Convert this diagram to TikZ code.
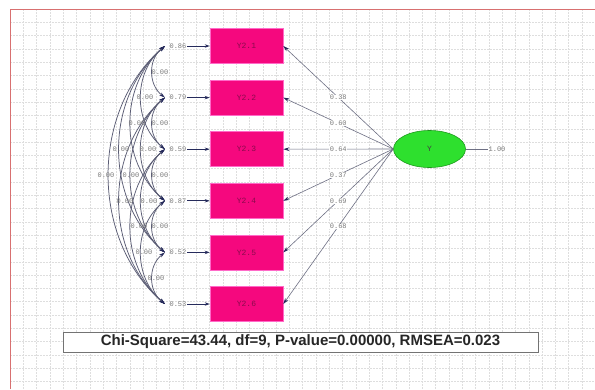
\documentclass[tikz,border=0pt]{standalone}
\usepackage{fontspec}
\setmainfont{Liberation Sans}
\newfontfamily\monof{Liberation Mono}
\usetikzlibrary{arrows.meta,shapes.geometric}
\definecolor{boxpink}{HTML}{F5087E}
\definecolor{boxedge}{HTML}{FF6AC8}
\definecolor{boxtext}{HTML}{8A0A4C}
\definecolor{latgreen}{HTML}{2EE02E}
\definecolor{latedge}{HTML}{1C9A1C}
\definecolor{arrowc}{HTML}{262B5C}
\definecolor{linec}{HTML}{6E7084}
\definecolor{covc}{HTML}{5A5C74}
\definecolor{labc}{HTML}{7A7A7A}
\definecolor{gridc}{HTML}{DEDEDE}
\definecolor{framec}{HTML}{D87070}
\begin{document}
\begin{tikzpicture}[x=1pt,y=-1pt,
  obs/.style={draw=boxedge, fill=boxpink, minimum width=73pt, minimum height=35pt, inner sep=0pt,
    font=\monof\fontsize{8}{8}\selectfont, text=boxtext, line width=0.6pt},
  lat/.style={ellipse, draw=latedge, fill=latgreen, minimum width=72pt, minimum height=37pt, inner sep=0pt,
    font=\monof\fontsize{8}{8}\selectfont, text=black!75, line width=0.6pt},
  val/.style={font=\monof\fontsize{7}{7}\selectfont, text=labc, inner sep=0.5pt},
  load/.style={draw=linec, line width=0.6pt, -{Stealth[length=6pt,width=3.6pt,color=arrowc]}},
  errarr/.style={draw=arrowc, line width=0.7pt, -{Stealth[length=5pt,width=3.4pt,color=arrowc]}},
  cov/.style={draw=covc, line width=0.75pt, {Stealth[length=6pt,width=3.4pt,color=arrowc]}-{Stealth[length=6pt,width=3.4pt,color=arrowc]}},
  gridline/.style={draw=gridc, line width=0.4pt, dash pattern=on 2pt off 1pt},
  statbox/.style={draw=black!55, fill=white, line width=0.8pt, minimum width=475pt, minimum height=20pt, inner sep=0pt,
    font=\bfseries\fontsize{15}{15}\selectfont, text=black!85}
]
\useasboundingbox (0,0) rectangle (595,389);
\fill[white] (0,0) rectangle (595,389);
% grid
\foreach \g in {0,...,44} {
  \draw[gridline] ({10+13.3*\g},9) -- ({10+13.3*\g},389);
}
\foreach \g in {0,...,29} {
  \draw[gridline] (10,{9+13.3*\g}) -- (595,{9+13.3*\g});
}
\draw[framec, line width=0.8pt] (10,389) -- (10,9) -- (595,9);

% observed variables
\foreach \i/\yy in {1/46,2/97.6,3/149.2,4/200.8,5/252.4,6/304} {
  \node[obs] (y\i) at (246.5,\yy) {Y2.\i};
  \coordinate (a\i) at (165,\yy);
}
% latent
\node[lat] (Y) at (429.5,149) {Y};
\node[val] (v) at (497,149) {1.00};
\draw[linec, line width=0.6pt] (Y.east) -- (v.west);

% error variances
\foreach \i/\yy/\t in {1/46/0.86,2/97.6/0.79,3/149.2/0.59,4/200.8/0.87,5/252.4/0.52,6/304/0.53} {
  \node[val] (e\i) at (178,\yy) {\t};
  \draw[errarr] (e\i.east) -- (y\i.west);
}

% loadings
\foreach \i/\t in {1/0.38,2/0.60,3/0.64,4/0.37,5/0.69,6/0.68} {
  \draw[load] (Y.west) -- node[val, fill=white] (l\i) {\t} (y\i.east);
}

% error covariances
\foreach \i/\j/\k/\s in {1/2/17/13, 2/3/17/13, 3/4/17/13, 4/5/17/13, 5/6/17/13,
  1/3/32/26, 2/4/32/26, 3/5/32/26, 4/6/32/26,
  1/4/46/39, 2/5/46/39, 3/6/46/39,
  1/5/61/52, 2/6/61/52,
  1/6/75/64} {
  \draw[cov] (a\i) .. controls +(-\k,\s) and +(-\k,-\s) .. (a\j);
}
\foreach \i/\j/\lx in {1/2/160, 2/3/160, 3/4/160, 4/5/160, 5/6/156,
  1/3/145, 2/4/148, 3/5/149, 4/6/144,
  1/4/137, 2/5/131, 3/6/139,
  1/5/121, 2/6/125,
  1/6/106} {
  \pgfmathsetmacro\my{46+51.6*((\i+\j)/2-1)}
  \node[val] (c\i\j) at (\lx,\my) {0.00};
}

% fit statistics
\node[statbox] (stat) at (300.5,342) {Chi-Square=43.44, df=9, P-value=0.00000, RMSEA=0.023};
\end{tikzpicture}
\end{document}
